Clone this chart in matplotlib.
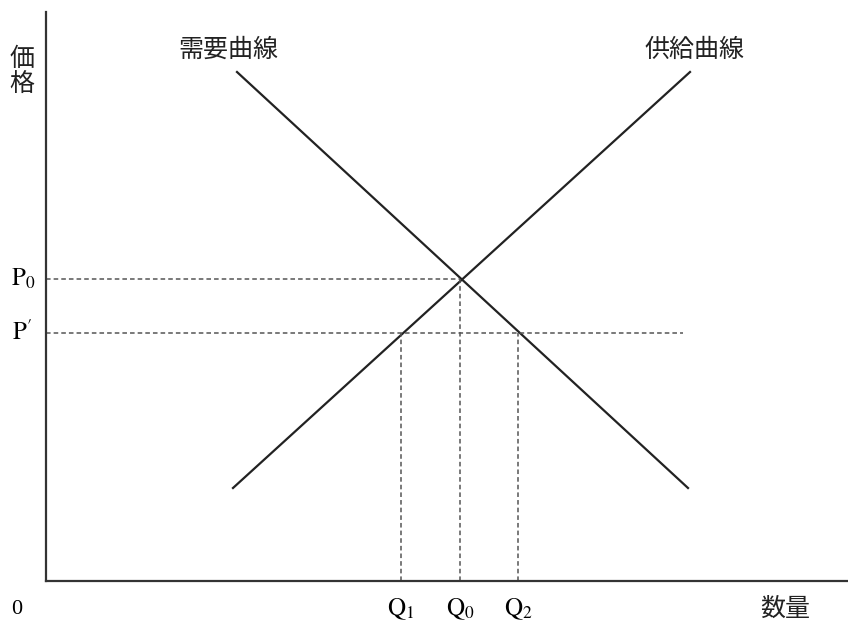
import matplotlib.pyplot as plt

plt.rcParams['font.family'] = ['Noto Sans CJK JP', 'DejaVu Sans']
plt.rcParams['mathtext.fontset'] = 'stix'

# 需要曲線・供給曲線の端点 (数量, 価格)
demanda_q = [19.1, 64.2]
demanda_p = [50.9, 9.3]
oferta_q = [18.7, 64.4]
oferta_p = [9.3, 50.9]

# 均衡点と価格 P'
q0, p0 = 41.4, 30.2
p_prima = 24.8
q1, q2 = 35.5, 47.2
fin_p_prima = 63.7

fig = plt.figure(figsize=(8.48, 6.25), dpi=100)
ax = fig.add_axes([46 / 848, 44 / 625, 802 / 848, 569 / 625])
ax.set_xlim(0, 80.2)
ax.set_ylim(0, 56.9)

for s in ['top', 'right']:
    ax.spines[s].set_visible(False)
for s in ['left', 'bottom']:
    ax.spines[s].set_linewidth(1.6)
    ax.spines[s].set_color('#333333')
ax.set_xticks([])
ax.set_yticks([])

ax.plot(demanda_q, demanda_p, color='#222222', lw=1.6)
ax.plot(oferta_q, oferta_p, color='#222222', lw=1.6)

estilo = dict(color='#555555', lw=1.1, ls=(0, (3, 2)))
ax.plot([0, q0], [p0, p0], **estilo)
ax.plot([0, fin_p_prima], [p_prima, p_prima], **estilo)
ax.plot([q0, q0], [0, p0], **estilo)
ax.plot([q1, q1], [0, p_prima], **estilo)
ax.plot([q2, q2], [0, p_prima], **estilo)

ax.text(-2.4, 51.0, '価\n格', fontsize=18, ha='center', va='center',
        linespacing=0.95, color='#222222', clip_on=False)
ax.text(18.2, 53.1, '需要曲線', fontsize=18, ha='center', va='center',
        color='#222222')
ax.text(64.9, 53.1, '供給曲線', fontsize=18, ha='center', va='center',
        color='#222222')
ax.text(-2.3, p0, r'$\mathrm{P}_0$', fontsize=18, ha='center', va='center',
        clip_on=False)
ax.text(-2.4, p_prima, r"$\mathrm{P}'$", fontsize=18, ha='center', va='center',
        clip_on=False)

y_lab = -2.8
ax.text(-2.9, y_lab, '0', fontsize=16, ha='center', va='center',
        family='Liberation Serif', clip_on=False)
for q, lab in [(q1, r'$\mathrm{Q}_1$'), (q0, r'$\mathrm{Q}_0$'), (q2, r'$\mathrm{Q}_2$')]:
    ax.text(q, y_lab, lab, fontsize=18, ha='center', va='center', clip_on=False)
ax.text(73.9, y_lab, '数量', fontsize=18, ha='center', va='center',
        color='#222222', clip_on=False)

fig.savefig('out.png', dpi=100)
